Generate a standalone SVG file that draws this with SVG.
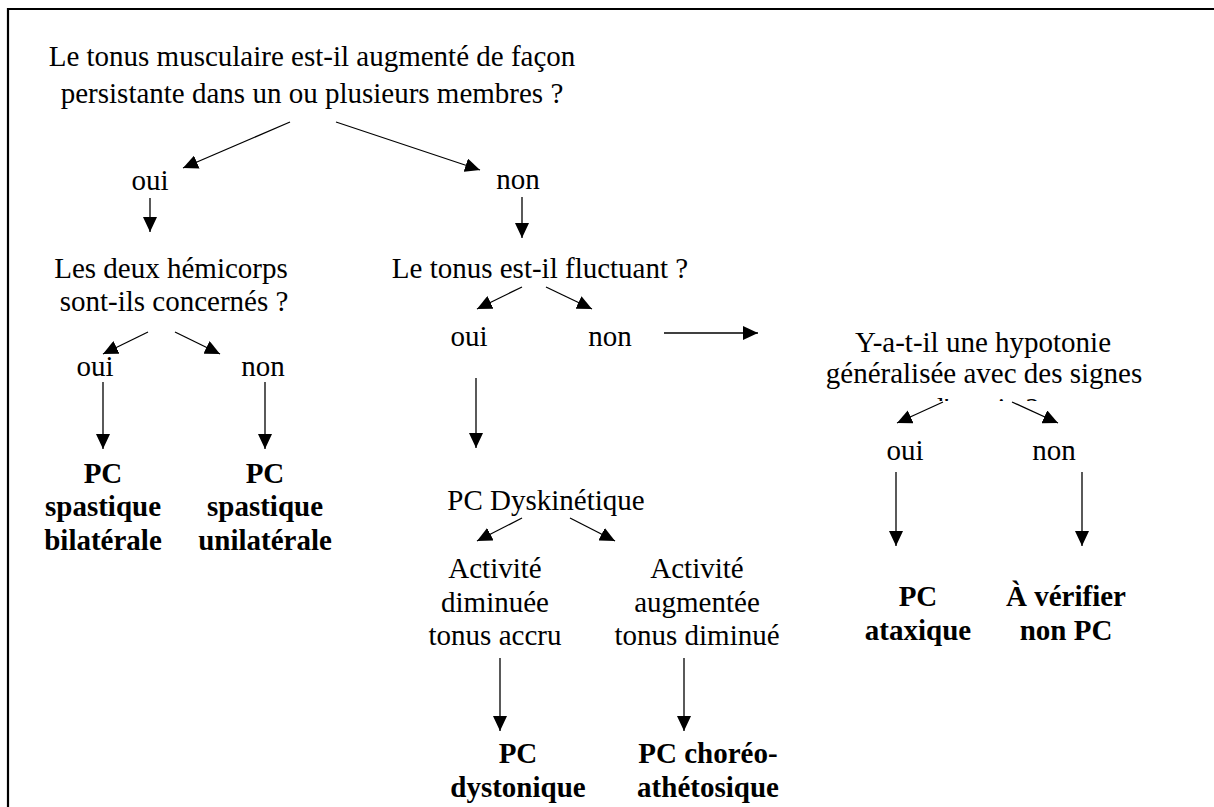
<svg xmlns="http://www.w3.org/2000/svg" width="1214" height="807" viewBox="0 0 1214 807" font-family="'Liberation Serif', 'Times New Roman', Tinos, serif">
<style>
text{font-family:'Liberation Serif','Times New Roman',Tinos,serif;font-size:29px;fill:#000;text-anchor:middle}
.b{font-weight:bold}
.c{stroke:#000;stroke-width:1.3;fill:none;marker-end:url(#ah)}
</style>
<defs>
<marker id="ah" markerUnits="userSpaceOnUse" markerWidth="16" markerHeight="14" refX="15" refY="7" orient="auto">
<path d="M0,0 L15,7 L0,14 z" fill="#000"/>
</marker>
<clipPath id="clip3"><rect x="800" y="300" width="400" height="101"/></clipPath>
</defs>
<rect width="1214" height="807" fill="#fff"/>
<path d="M8,807 V9 H1214" stroke="#000" stroke-width="2.2" fill="none"/>
<g id="connectors">
<line class="c" x1="290" y1="122" x2="183" y2="168"/>
<line class="c" x1="336" y1="122" x2="480" y2="170"/>
<line class="c" x1="150" y1="198" x2="150" y2="232"/>
<line class="c" x1="522" y1="197" x2="522" y2="238"/>
<line class="c" x1="148" y1="332" x2="103" y2="354"/>
<line class="c" x1="175" y1="332" x2="220" y2="354"/>
<line class="c" x1="103" y1="382" x2="103" y2="449"/>
<line class="c" x1="265" y1="382" x2="265" y2="449"/>
<line class="c" x1="522" y1="287" x2="477" y2="309"/>
<line class="c" x1="546" y1="287" x2="592" y2="309"/>
<line class="c" x1="664" y1="333" x2="758" y2="333"/>
<line class="c" x1="476" y1="378" x2="476" y2="448"/>
<line class="c" x1="522" y1="518" x2="477" y2="541"/>
<line class="c" x1="570" y1="518" x2="615" y2="541"/>
<line class="c" x1="500" y1="658" x2="500" y2="731"/>
<line class="c" x1="684" y1="658" x2="684" y2="731"/>
<line class="c" x1="943" y1="402" x2="897" y2="423"/>
<line class="c" x1="1012" y1="402" x2="1058" y2="423"/>
<line class="c" x1="896" y1="472" x2="896" y2="546"/>
<line class="c" x1="1082" y1="472" x2="1082" y2="546"/>
</g>
<g id="q1"><text x="312" y="66">Le tonus musculaire est-il augmenté de façon</text><text x="312" y="103">persistante dans un ou plusieurs membres ?</text></g>
<g id="oui1"><text x="150" y="190">oui</text></g>
<g id="non1"><text x="518" y="189">non</text></g>
<g id="q2"><text x="171" y="278">Les deux hémicorps</text><text x="174" y="311">sont-ils concernés ?</text></g>
<g id="q3"><text x="540" y="278">Le tonus est-il fluctuant ?</text></g>
<g id="oui2"><text x="95" y="376">oui</text></g>
<g id="non2"><text x="263" y="376">non</text></g>
<g id="r1"><text class="b" x="103" y="483">PC</text><text class="b" x="103" y="516">spastique</text><text class="b" x="103" y="550">bilatérale</text></g>
<g id="r2"><text class="b" x="265" y="483">PC</text><text class="b" x="265" y="516">spastique</text><text class="b" x="265" y="550">unilatérale</text></g>
<g id="oui3"><text x="469" y="346">oui</text></g>
<g id="non3"><text x="610" y="346">non</text></g>
<g id="dys"><text x="546" y="510">PC Dyskinétique</text></g>
<g id="a1"><text x="495" y="578">Activité</text><text x="495" y="612">diminuée</text><text x="495" y="645">tonus accru</text></g>
<g id="a2"><text x="697" y="578">Activité</text><text x="697" y="612">augmentée</text><text x="697" y="645">tonus diminué</text></g>
<g id="r3"><text class="b" x="518" y="763">PC</text><text class="b" x="518" y="797">dystonique</text></g>
<g id="r4"><text class="b" x="708" y="763">PC choréo-</text><text class="b" x="708" y="797">athétosique</text></g>
<g id="q4"><text x="983" y="352">Y-a-t-il une hypotonie</text><text x="984" y="383">généralisée avec des signes</text><text x="984" y="418" clip-path="url(#clip3)">d'ataxie ?</text></g>
<g id="oui4"><text x="905" y="460">oui</text></g>
<g id="non4"><text x="1054" y="460">non</text></g>
<g id="r5"><text class="b" x="918" y="606">PC</text><text class="b" x="918" y="640">ataxique</text></g>
<g id="r6"><text class="b" x="1066" y="606">À vérifier</text><text class="b" x="1066" y="640">non PC</text></g>
</svg>
